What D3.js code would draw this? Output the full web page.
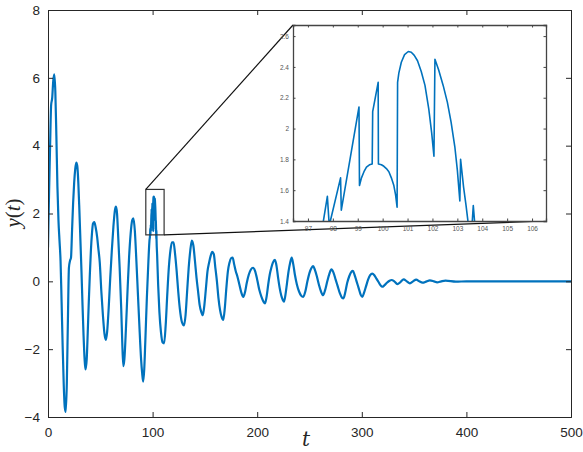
<!DOCTYPE html>
<html>
<head>
<meta charset="utf-8">
<script src="https://cdn.jsdelivr.net/npm/d3@7/dist/d3.min.js"></script>
<style>
  html, body { margin: 0; padding: 0; background: #fff; }
  svg { display: block; }
</style>
</head>
<body>
<svg id="chart" width="583" height="452"></svg>
<script>
// ---------------- data ----------------
const tValues = [0,1,2,3,4,5,6,7,8,9,10,11,12,13,14,15,16,17,18,19,20,21,22,23,24,25,26,27,28,29,30,31,32,33,34,35,35.8,37,38,39,40,41,42,43,44.3,45.5,47,48,49.5,51,52.5,54,55.3,56.5,58,59.5,61,62.5,64,65,66,67,68.5,70,71,72,73,74.5,76,77.5,79,80.5,81.6,83,84.5,86,87.5,89,90,91,92,93,94.5,96,97,
  97.60,97.78,97.86,97.9,98.31,98.34,99.05,99.07,99.15,99.25,99.35,99.47,99.58,99.60,99.82,99.83,99.95,100.05,100.15,100.25,100.35,100.45,100.52,100.58,100.60,100.65,100.75,100.88,101.03,101.15,101.27,101.4,101.55,101.7,101.85,101.97,102.06,102.10,102.25,102.43,102.6,102.75,102.9,103.0,103.10,103.13,103.25,103.35,103.44,103.54,103.64,103.70,103.8,
  104.3,105.3,106.5,108,109.5,111,112.5,114,115.5,117,118.5,120,121.5,123,124.5,126,128,130,131.5,133,134.5,136,137.5,139,140.5,142,143.5,145,146.5,148,149.5,151,152.5,154,155.5,157,158.5,160,161.5,163,164.5,166,167.5,169,170.5,172,173.5,175,176.5,178,179.5,181,183,185,186.7,188.5,190,192,194,196,198,200,202,204,206,207.5,209,210.5,212,213.5,215,217,218.5,220,221.5,223,224.5,225.6,227,228.5,230,231.5,233,234.5,236,238,240,242,244,246,248,250,252,253.5,255,257,259,261,263,265,267,269,271,273,275,277,279,281,282.5,284,286,288,290,291.5,293,295,297,299,300.5,302,304,306,308,310,312,314,316,318,319.6,321.5,324,326.5,328.6,331,334,337,340,343,346,349,352,355,358,362,365,369,372,376,380,390,400,420,440,460,480,500];
const yValues = [1.0,2.6,4.0,5.2,5.4,5.9,6.1,5.6,4.3,2.8,1.8,1.2,0.6,-0.6,-1.9,-3.0,-3.7,-3.85,-3.0,-1.2,0.4,0.6,0.7,1.5,2.3,2.9,3.3,3.5,3.4,2.9,2.1,1.2,0.3,-0.7,-1.6,-2.3,-2.6,-2.3,-1.5,-0.6,0.2,0.9,1.4,1.7,1.75,1.6,1.3,1.0,0.55,-0.3,-1.0,-1.55,-1.73,-1.5,-0.8,0.1,0.9,1.6,2.1,2.2,2.0,1.4,0.4,-0.8,-1.8,-2.5,-2.3,-1.4,-0.3,0.7,1.4,1.8,1.86,1.5,0.6,-0.4,-1.4,-2.3,-2.7,-2.96,-2.6,-1.8,-0.5,0.6,1.2,
  1.38,1.56,1.36,1.40,1.68,1.47,2.14,1.63,1.68,1.72,1.75,1.765,1.77,2.11,2.30,1.77,1.765,1.755,1.74,1.72,1.68,1.63,1.57,1.49,2.30,2.36,2.43,2.48,2.50,2.495,2.475,2.44,2.37,2.28,2.13,1.97,1.82,2.45,2.38,2.28,2.17,2.04,1.88,1.73,1.53,1.80,1.62,1.50,1.38,1.25,1.50,1.38,1.2,
  0.8,-0.1,-0.9,-1.5,-1.8,-1.83,-1.3,-0.4,0.4,0.9,1.15,1.15,0.8,0.3,-0.3,-0.8,-1.2,-1.3,-1.0,-0.3,0.4,0.9,1.2,1.05,0.6,0.1,-0.3,-0.7,-0.9,-1.0,-0.7,-0.2,0.3,0.55,0.75,0.87,0.8,0.4,0.0,-0.5,-0.85,-1.05,-1.14,-0.8,-0.2,0.3,0.55,0.68,0.7,0.5,0.3,0.15,-0.1,-0.35,-0.46,-0.3,-0.05,0.2,0.35,0.4,0.3,0.05,-0.25,-0.45,-0.6,-0.65,-0.45,-0.1,0.2,0.4,0.55,0.63,0.45,0.1,-0.2,-0.42,-0.55,-0.6,-0.4,-0.05,0.3,0.55,0.7,0.5,0.2,-0.1,-0.3,-0.42,-0.46,-0.3,0.0,0.25,0.4,0.45,0.35,0.15,-0.1,-0.3,-0.41,-0.25,0.0,0.22,0.35,0.25,0.05,-0.15,-0.35,-0.48,-0.5,-0.35,-0.05,0.15,0.28,0.31,0.2,0.0,-0.2,-0.4,-0.46,-0.35,-0.15,0.05,0.18,0.23,0.18,0.08,-0.02,-0.12,-0.16,-0.12,-0.04,0.02,0.04,0.0,-0.08,-0.02,0.06,0.0,-0.06,0.0,0.05,0.0,-0.04,0.0,0.03,0.0,-0.03,0.0,0.02,-0.01,0.0,0.0,0.0,0.0,0.0,0.0];
const series = tValues.map((t, i) => ({ t: t, y: yValues[i] }));

const xTicks = [0, 100, 200, 300, 400, 500];
const yTicks = [-4, -2, 0, 2, 4, 6, 8];
const insetXTicks = [97, 98, 99, 100, 101, 102, 103, 104, 105, 106];
const insetYTicks = [1.4, 1.6, 1.8, 2.0, 2.2, 2.4, 2.6];
const zoomBoxT = [93.5, 111];
const zoomBoxY = [1.37, 2.71];
const insetXDomain = [96.4, 106.56];
const insetYDomain = [1.4, 2.672];

// ---------------- layout ----------------
const svg = d3.select("#chart");
const M = { left: 48, right: 571, top: 10, bottom: 417 };
const I = { left: 293, right: 546, top: 25, bottom: 221 };
const axisColor = "#262626";
const lineColor = "#0072BD";

const x = d3.scaleLinear().domain([0, 500]).range([M.left, M.right]);
const y = d3.scaleLinear().domain([-4, 8]).range([M.bottom, M.top]);

svg.append("clipPath").attr("id", "mainClip").append("rect")
  .attr("x", M.left).attr("y", M.top).attr("width", M.right - M.left).attr("height", M.bottom - M.top);

const line = d3.line().x(d => x(d.t)).y(d => y(d.y)).curve(d3.curveMonotoneX);
svg.append("path").datum(series)
  .attr("clip-path", "url(#mainClip)")
  .attr("d", line).attr("fill", "none")
  .attr("stroke", lineColor).attr("stroke-width", 2.2).attr("stroke-linejoin", "round");

const tickFont = "'Liberation Sans', Arial, Helvetica, sans-serif";
const gx = svg.append("g").attr("transform", `translate(0,${M.bottom})`)
  .call(d3.axisBottom(x).tickValues(xTicks).tickSize(-5).tickPadding(10).tickFormat(d3.format("d")));
const gxTop = svg.append("g").attr("transform", `translate(0,${M.top})`)
  .call(d3.axisTop(x).tickValues(xTicks).tickSize(-5).tickFormat(""));
const gy = svg.append("g").attr("transform", `translate(${M.left},0)`)
  .call(d3.axisLeft(y).tickValues(yTicks).tickSize(-5).tickPadding(8).tickFormat(d3.format("d")));
const gyR = svg.append("g").attr("transform", `translate(${M.right},0)`)
  .call(d3.axisRight(y).tickValues(yTicks).tickSize(-5).tickFormat(""));
[gx, gxTop, gy, gyR].forEach(g => {
  g.select(".domain").attr("stroke", axisColor).attr("stroke-width", 1);
  g.selectAll(".tick line").attr("stroke", axisColor).attr("stroke-width", 1);
  g.selectAll("text").attr("fill", axisColor).style("font-family", tickFont).style("font-size", "13.5px");
});

svg.append("text").attr("x", 306).attr("y", 446).attr("text-anchor", "middle")
  .style("font-family", "'DejaVu Serif', 'Liberation Serif', serif").style("font-style", "italic")
  .style("font-size", "20px").attr("fill", axisColor).text("t");
const yl = svg.append("text").attr("transform", "translate(20,213) rotate(-90)").attr("text-anchor", "middle")
  .style("font-family", "'Liberation Serif', 'DejaVu Serif', serif").style("font-size", "21px").attr("fill", axisColor);
yl.append("tspan").style("font-style", "italic").text("y");
yl.append("tspan").text("(");
yl.append("tspan").style("font-style", "italic").text("t");
yl.append("tspan").text(")");

const bx0 = x(zoomBoxT[0]), bx1 = x(zoomBoxT[1]), by0 = y(zoomBoxY[1]), by1 = y(zoomBoxY[0]);
svg.append("rect").attr("x", bx0).attr("y", by0).attr("width", bx1 - bx0).attr("height", by1 - by0)
  .attr("fill", "none").attr("stroke", "#333").attr("stroke-width", 1.2);
svg.append("line").attr("x1", bx0).attr("y1", by0).attr("x2", I.left).attr("y2", I.top)
  .attr("stroke", "#111").attr("stroke-width", 1.2);
svg.append("line").attr("x1", bx1).attr("y1", by1).attr("x2", I.right).attr("y2", I.bottom)
  .attr("stroke", "#111").attr("stroke-width", 1.2);

// ---------------- inset ----------------
const xi = d3.scaleLinear().domain(insetXDomain).range([I.left, I.right]);
const yi = d3.scaleLinear().domain(insetYDomain).range([I.bottom, I.top]);
svg.append("rect").attr("x", I.left).attr("y", I.top).attr("width", I.right - I.left).attr("height", I.bottom - I.top)
  .attr("fill", "#fff");
svg.append("clipPath").attr("id", "insetClip").append("rect")
  .attr("x", I.left).attr("y", I.top).attr("width", I.right - I.left).attr("height", I.bottom - I.top);
const lineI = d3.line().x(d => xi(d.t)).y(d => yi(d.y));
svg.append("path").datum(series.filter(d => d.t >= 95 && d.t <= 106))
  .attr("clip-path", "url(#insetClip)")
  .attr("d", lineI).attr("fill", "none")
  .attr("stroke", lineColor).attr("stroke-width", 1.6).attr("stroke-linejoin", "round");

const fmtI = d => (d === 2 ? "2" : d3.format(".1f")(d));
const ix = svg.append("g").attr("transform", `translate(0,${I.bottom})`)
  .call(d3.axisBottom(xi).tickValues(insetXTicks).tickSize(-2.5).tickPadding(5).tickFormat(d3.format("d")));
const ixT = svg.append("g").attr("transform", `translate(0,${I.top})`)
  .call(d3.axisTop(xi).tickValues(insetXTicks).tickSize(-2.5).tickFormat(""));
const iy = svg.append("g").attr("transform", `translate(${I.left},0)`)
  .call(d3.axisLeft(yi).tickValues(insetYTicks).tickSize(-2.5).tickPadding(4).tickFormat(fmtI));
const iyR = svg.append("g").attr("transform", `translate(${I.right},0)`)
  .call(d3.axisRight(yi).tickValues(insetYTicks).tickSize(-2.5).tickFormat(""));
[ix, ixT, iy, iyR].forEach(g => {
  g.select(".domain").attr("stroke", "#444").attr("stroke-width", 1.3);
  g.selectAll(".tick line").attr("stroke", "#444").attr("stroke-width", 1);
  g.selectAll("text").attr("fill", "#555").style("font-family", tickFont).style("font-size", "6.5px");
});
</script>
</body>
</html>
